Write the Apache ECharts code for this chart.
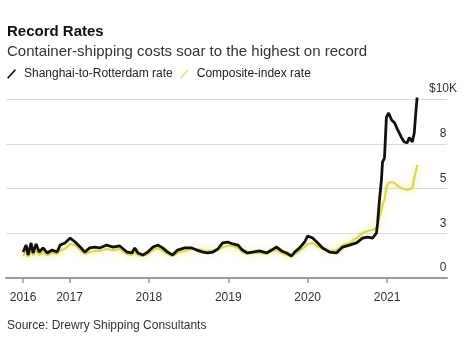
<!DOCTYPE html>
<html>
<head>
<meta charset="utf-8">
<script src="https://cdn.jsdelivr.net/npm/echarts@6/dist/echarts.min.js"></script>
<style>
html,body{margin:0;padding:0;background:#fff;}
#chart{width:468px;height:339px;}
</style>
</head>
<body>
<div id="chart"></div>
<script>
// ---- data (thousands of USD per 40ft container) ----
const dates = [
 '2016-06-01','2016-06-15','2016-06-24','2016-07-08','2016-07-17','2016-07-31','2016-08-14','2016-09-01','2016-09-20','2016-10-13','2016-11-05','2016-11-19','2016-12-11',
 '2017-01-04','2017-01-27','2017-02-19','2017-03-12','2017-04-04','2017-04-27','2017-05-20','2017-06-21','2017-07-19','2017-08-20','2017-09-22','2017-10-15','2017-10-28','2017-11-12','2017-12-04','2017-12-27',
 '2018-01-20','2018-02-12','2018-03-05','2018-03-28','2018-04-20','2018-05-13','2018-06-15','2018-07-17','2018-08-09','2018-09-06','2018-09-29','2018-10-22','2018-11-14','2018-12-06','2018-12-29',
 '2019-01-22','2019-02-14','2019-03-07','2019-03-30','2019-04-23','2019-05-24','2019-06-26','2019-07-19','2019-08-11','2019-09-03','2019-09-26','2019-10-19','2019-11-02','2019-11-25','2019-12-18',
 '2020-01-01','2020-01-24','2020-02-12','2020-03-10','2020-04-11','2020-05-13','2020-06-10','2020-07-12','2020-08-13','2020-09-10','2020-10-03','2020-10-26','2020-11-13','2020-11-18','2020-11-27','2020-12-06','2020-12-11','2020-12-20','2020-12-29',
 '2021-01-08','2021-01-22','2021-02-05','2021-02-19','2021-03-07','2021-03-21','2021-04-04','2021-04-13','2021-04-27','2021-05-06','2021-05-13','2021-05-20'
];
const shanghaiRotterdam = [
 1.45,1.84,1.28,1.96,1.40,1.90,1.45,1.68,1.40,1.56,1.45,1.84,1.96,
 2.23,2.01,1.73,1.45,1.68,1.73,1.68,1.84,1.73,1.79,1.45,1.40,1.68,1.40,1.28,1.45,
 1.73,1.84,1.68,1.45,1.28,1.56,1.68,1.68,1.56,1.45,1.40,1.45,1.62,1.96,2.01,
 1.90,1.84,1.56,1.40,1.45,1.51,1.40,1.56,1.73,1.51,1.40,1.23,1.45,1.68,2.01,
 2.35,2.23,2.01,1.68,1.45,1.40,1.73,1.84,1.96,2.23,2.29,2.23,2.51,3.02,4.36,5.47,6.48,6.70,8.99,
 9.22,8.83,8.66,8.27,7.88,7.60,7.55,7.85,7.60,8.10,9.20,10.22
];
const compositeIndex = [
 1.23,1.56,1.17,1.62,1.28,1.56,1.28,1.45,1.28,1.40,1.34,1.56,1.62,
 1.90,1.84,1.56,1.34,1.45,1.51,1.51,1.62,1.56,1.62,1.34,1.28,1.45,1.28,1.23,1.34,
 1.56,1.68,1.51,1.34,1.23,1.40,1.51,1.62,1.62,1.56,1.51,1.51,1.56,1.73,1.79,
 1.79,1.68,1.45,1.34,1.40,1.40,1.34,1.51,1.56,1.40,1.28,1.17,1.34,1.51,1.73,
 1.90,1.96,1.79,1.62,1.51,1.56,1.84,1.96,2.23,2.51,2.63,2.68,2.79,2.96,3.41,3.80,4.08,4.36,5.08,
 5.31,5.36,5.31,5.14,5.03,4.97,4.92,4.92,5.03,5.59,5.92,6.31
];
const seriesNames = ['Shanghai-to-Rotterdam rate', 'Composite-index rate'];
const xTickDates = ['2016-06-01','2017-01-01','2018-01-01','2019-01-01','2020-01-01','2021-01-01'];
const xTickLabels = ['2016','2017','2018','2019','2020','2021'];
const yTickValues = [0, 2.5, 5, 7.5, 10];
const yTickLabels = ['0','3','5','8','$10K'];

// ---- helpers ----
function toYear(s){
  const d = new Date(s + 'T00:00:00Z');
  const y = d.getUTCFullYear();
  const start = Date.UTC(y,0,1), end = Date.UTC(y+1,0,1);
  return y + (d.getTime() - start) / (end - start);
}
const xs = dates.map(toYear);
const xTicks = xTickDates.map(toYear);
const FONT = 'Liberation Sans, Arial, sans-serif';

const chart = echarts.init(document.getElementById('chart'), null, {renderer:'canvas'});
chart.setOption({
  animation: false,
  backgroundColor: '#fff',
  title: [{
    text: 'Record Rates',
    subtext: 'Container-shipping costs soar to the highest on record',
    left: 2, top: 19,
    itemGap: 5,
    textStyle: {fontFamily: FONT, fontSize: 15, fontWeight: 'bold', color: '#111'},
    subtextStyle: {fontFamily: FONT, fontSize: 15, color: '#333'}
  },{
    text: 'Source: Drewry Shipping Consultants',
    left: 2, top: 315,
    textStyle: {fontFamily: FONT, fontSize: 12, fontWeight: 'normal', color: '#333'}
  }],
  legend: {
    left: 2, top: 63,
    itemWidth: 9, itemHeight: 10, itemGap: 7,
    textStyle: {fontFamily: FONT, fontSize: 12, color: '#222', padding: [0,0,0,3]},
    data: [
      {name: seriesNames[0], icon: 'path://M0,10 L9,0 L10.5,1.3 L1.5,11.3 Z', itemStyle: {color: '#111'}},
      {name: seriesNames[1], icon: 'path://M0,10 L9,0 L10.5,1.3 L1.5,11.3 Z', itemStyle: {color: '#e6e27a'}}
    ]
  },
  grid: {left: 6, right: 21, top: 99, bottom: 61, containLabel: false},
  xAxis: {
    type: 'value',
    min: 2016.2, max: 2021.755,
    axisLine: {show: true, lineStyle: {color: '#999', width: 2}},
    axisTick: {show: true, customValues: xTicks, length: 5, lineStyle: {color: '#999', width: 1.5}},
    axisLabel: {
      customValues: xTicks,
      margin: 14,
      fontFamily: FONT, fontSize: 12, color: '#333',
      formatter: function(v){ const i = xTicks.findIndex(t => Math.abs(t - v) < 1e-6); return i >= 0 ? xTickLabels[i] : ''; }
    },
    splitLine: {show: false}
  },
  yAxis: {
    type: 'value',
    position: 'right',
    min: 0, max: 10, interval: 2.5,
    axisLine: {show: false},
    axisTick: {show: false},
    axisLabel: {
      margin: -4,
      align: 'center',
      verticalAlign: 'bottom',
      padding: [0,0,4,0],
      fontFamily: FONT, fontSize: 12, color: '#333',
      formatter: function(v){ const i = yTickValues.indexOf(v); return i >= 0 ? yTickLabels[i] : ''; }
    },
    splitLine: {show: true, lineStyle: {color: '#dcdcdc', width: 1}}
  },
  series: [
    {
      name: seriesNames[1], type: 'line', showSymbol: false, symbol: 'none', smooth: false, z: 2,
      data: xs.map((x,i) => [x, compositeIndex[i]]),
      lineStyle: {color: '#dcd750', width: 2.2, shadowColor: 'rgba(225,220,90,0.8)', shadowBlur: 7},
      itemStyle: {color: '#e6e27a'}
    },
    {
      name: seriesNames[0], type: 'line', showSymbol: false, symbol: 'none', smooth: false, z: 3,
      data: xs.map((x,i) => [x, shanghaiRotterdam[i]]),
      lineStyle: {color: '#111', width: 2.8},
      itemStyle: {color: '#111'}
    }
  ]
});
</script>
</body>
</html>
